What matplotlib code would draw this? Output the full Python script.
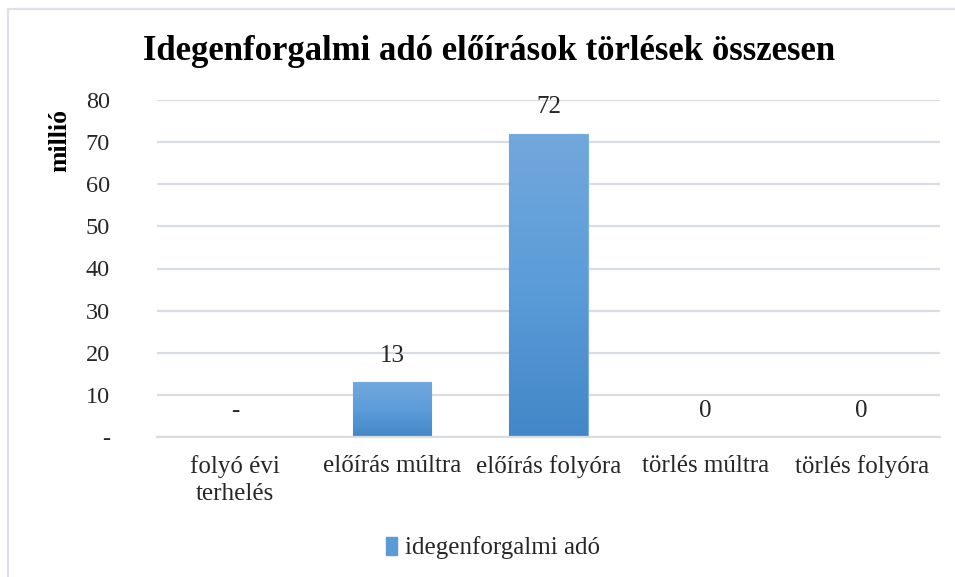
import matplotlib
matplotlib.use("Agg")
import matplotlib.pyplot as plt
import numpy as np
from matplotlib.colors import LinearSegmentedColormap
from matplotlib.lines import Line2D

categories = ["folyó évi\nterhelés", "előírás múltra", "előírás folyóra", "törlés múltra", "törlés folyóra"]
values = [0, 13, 72, 0, 0]
value_labels = ["-", "13", "72", "0", "0"]
yticks = [0, 10, 20, 30, 40, 50, 60, 70, 80]
ytick_labels = ["-", "10", "20", "30", "40", "50", "60", "70", "80"]
series_name = "idegenforgalmi adó"
title = "Idegenforgalmi adó előírások törlések összesen"
ylabel = "millió"

FONT = "Liberation Serif"
W, H = 955, 577
fig = plt.figure(figsize=(W / 100, H / 100), dpi=100)
fig.patch.set_facecolor("white")

# chart border (top and left)
fig.add_artist(Line2D([8 / W, 8 / W], [0, 1 - 9 / H], color="#DDE1EA", lw=1.6, transform=fig.transFigure))
fig.add_artist(Line2D([8 / W, 1], [1 - 9 / H, 1 - 9 / H], color="#DDE1EA", lw=1.6, transform=fig.transFigure))

ax = fig.add_axes([157 / W, 1 - 437 / H, (940 - 157) / W, (437 - 100) / H])
x = np.arange(len(categories))
bars = ax.bar(x, values, width=0.5, color="#5B9BD5", edgecolor="#7DB1E0", linewidth=0.8, zorder=2)

cmap = LinearSegmentedColormap.from_list("g", ["#4387C8", "#5B9CD9", "#72A8DC"])
grad = np.linspace(0, 1, 256).reshape(-1, 1)
for b in bars:
    if b.get_height() <= 0:
        continue
    x0, y0 = b.get_x(), b.get_y()
    im = ax.imshow(grad, cmap=cmap, origin="lower", aspect="auto",
                   extent=[x0, x0 + b.get_width(), y0, y0 + b.get_height()], zorder=2.5)
    im.set_clip_path(b)

for xi, v, lab in zip(x, values, value_labels):
    ax.annotate(lab, (xi, v), xytext=(0, 19), textcoords="offset points", ha="center", va="center",
                fontsize=18, family=FONT, color="#262626")

ax.set_xlim(-0.5, len(categories) - 0.5)
ax.set_ylim(0, 80)
ax.set_yticks(yticks)
ax.set_yticklabels(ytick_labels, family=FONT, fontsize=17.5, color="#262626")
ax.set_xticks(x)
ax.set_xticklabels(categories, family=FONT, fontsize=18, color="#262626", linespacing=1.3)
ax.tick_params(axis="y", length=0, pad=34)
ax.tick_params(axis="x", length=0, pad=13)
ax.grid(axis="y", color="#D9DCE3", lw=1.6, zorder=0)
ax.set_axisbelow(True)
for s in ax.spines.values():
    s.set_visible(False)
ax.spines["bottom"].set_visible(True)
ax.spines["bottom"].set_color("#D9DCE3")
ax.spines["bottom"].set_linewidth(1.6)

fig.text(489 / W, 1 - 52 / H, title, ha="center", va="center", fontsize=25, fontweight="bold", family=FONT)
fig.text(60 / W, 1 - 140 / H, ylabel, ha="center", va="center", rotation=90, fontsize=18.5,
         fontweight="bold", family=FONT)

handle = plt.Rectangle((0, 0), 1, 1, color="#5B9BD5")
fig.legend([handle], [series_name], loc="center", bbox_to_anchor=(493 / W, 1 - 548 / H),
           frameon=False, prop={"family": FONT, "size": 18}, handlelength=0.45, handleheight=0.75,
           handletextpad=0.3, labelcolor="#262626")

fig.savefig("out.png", dpi=100, facecolor="white")
